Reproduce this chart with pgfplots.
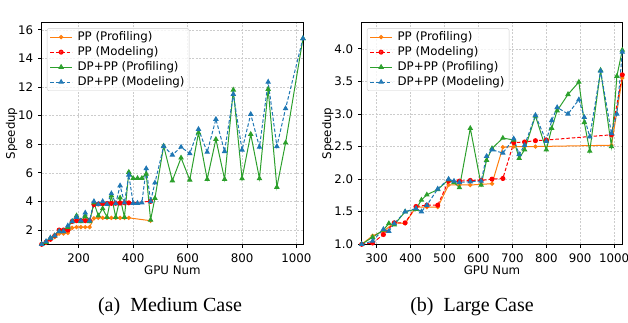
\documentclass[border=0pt]{standalone}
\usepackage{pgfplots}
\pgfplotsset{compat=1.18}
\usepackage{fontspec}
\setmainfont{DejaVu Sans}
\newfontfamily\capfont{Liberation Serif}
\definecolor{mplorange}{HTML}{FF7F0E}
\definecolor{mplred}{HTML}{FF0000}
\definecolor{mplgreen}{HTML}{2CA02C}
\definecolor{mplblue}{HTML}{1F77B4}

\pgfplotsset{
  myaxis/.style={
    scale only axis,
    /pgf/number format/assume math mode=true,
    /pgf/number format/1000 sep={},
    font=\fontsize{11.8}{14}\selectfont,
    axis line style={line width=0.8pt, black},
    tick align=outside, tick pos=left,
    major tick length=3.5pt,
    tick style={line width=0.7pt, black},
    xticklabel style={yshift=-2pt},
    yticklabel style={xshift=-1.5pt},
    grid=major,
    grid style={line width=0.5pt, gray!40, dash pattern=on 2pt off 1.5pt},
    xlabel={GPU Num}, ylabel={Speedup},
    xlabel style={yshift=3pt},
    ylabel style={yshift=-6pt},
    legend cell align=left,
    legend style={at={(0.02,0.975)}, anchor=north west, draw=black!20,
      rounded corners=2pt, fill=white, fill opacity=0.8, text opacity=1,
      font=\fontsize{11.8}{14}\selectfont, inner xsep=2.5pt, inner ysep=1.5pt,
      row sep=0.5pt, /tikz/every odd column/.append style={column sep=3pt}},
    legend image code/.code={\draw[mark repeat=2,mark phase=2,##1] plot coordinates {(0pt,0pt) (11pt,0pt) (22pt,0pt)};},
  },
  ppprof/.style={color=mplorange, line width=1pt, solid, mark=*, mark size=1.6pt, mark options={solid}},
  ppmod/.style={color=mplred, line width=1pt, dash pattern=on 3.5pt off 2pt, mark=*, mark size=2pt, mark options={solid}},
  dpprof/.style={color=mplgreen, line width=1pt, solid, mark=triangle*, mark size=2.3pt, mark options={solid}},
  dpmod/.style={color=mplblue, line width=1pt, dash pattern=on 3.5pt off 2pt, mark=triangle*, mark size=2.3pt, mark options={solid}},
}

\begin{document}
\begin{tikzpicture}
\useasboundingbox (0pt,0pt) rectangle (628pt,-323pt);

\begin{axis}[myaxis,
  at={(41.7pt,-244.3pt)}, anchor=south west,
  width=261.3pt, height=221.6pt,
  xmin=64, xmax=1024, ymin=1, ymax=16.5,
  xtick={200,400,600,800,1000},
  ytick={2,4,6,8,10,12,14,16},
]
\addplot[ppprof] coordinates {
(64,1.0) (80,1.1) (96,1.35) (112,1.5) (128,1.75) (144,1.75) (160,1.8) (176,2.15) (192,2.2) (208,2.2) (224,2.2) (240,2.2)
(256,2.82) (272,2.85) (288,2.85) (304,2.85) (320,2.85) (336,2.85) (352,2.85) (368,2.85) (384,2.85) (464,2.65)};
\addlegendentry{PP (Profiling)}
\addplot[ppmod] coordinates {
(64,1.0) (80,1.15) (96,1.35) (112,1.6) (128,2.0) (144,2.0) (160,2.0) (176,2.6) (192,2.65) (208,2.65) (224,2.65) (240,2.65)
(256,3.78) (272,3.82) (288,3.84) (304,3.85) (320,3.86) (336,3.87) (352,3.88) (368,3.9) (384,3.9) (464,4.0)};
\addlegendentry{PP (Modeling)}
\addplot[dpprof] coordinates {
(64,1.0) (80,1.15) (96,1.45) (112,1.6) (128,1.9) (144,1.9) (160,2.2) (176,2.6) (192,3.0) (208,2.6) (224,2.95) (240,2.6)
(256,3.9) (272,3.0) (288,3.5) (304,2.9) (320,4.4) (336,2.9) (352,4.25) (368,2.9) (384,6.05) (400,5.62) (416,5.62) (432,5.62)
(448,5.92) (464,2.7) (480,4.22) (512,7.88) (544,5.45) (576,7.05) (608,5.5) (640,8.8) (672,5.55) (704,8.35) (736,5.55)
(768,11.8) (800,5.6) (832,8.7) (864,5.6) (896,11.85) (928,5.0) (960,8.1) (1024,15.4)};
\addlegendentry{DP+PP (Profiling)}
\addplot[dpmod] coordinates {
(64,1.0) (80,1.2) (96,1.45) (112,1.6) (128,1.9) (144,1.9) (160,2.3) (176,2.6) (192,2.9) (208,2.65) (224,3.2) (240,2.65)
(256,4.0) (272,3.8) (288,4.0) (304,3.8) (320,4.55) (336,3.85) (352,5.1) (368,3.9) (384,5.85) (400,3.88) (416,3.88) (432,3.9)
(448,6.3) (464,4.0) (480,5.3) (512,7.85) (544,7.25) (576,7.8) (608,7.35) (640,9.05) (672,7.45) (704,9.75) (736,7.5)
(768,11.5) (800,7.6) (832,10.1) (864,7.8) (896,12.35) (928,7.85) (960,10.5) (1024,15.4)};
\addlegendentry{DP+PP (Modeling)}
\end{axis}

\begin{axis}[myaxis,
  at={(361.7pt,-244.3pt)}, anchor=south west,
  width=260.6pt, height=221.6pt,
  xmin=256, xmax=1024, ymin=1, ymax=4.4,
  xtick={300,400,500,600,700,800,900,1000},
  ytick={1.0,1.5,2.0,2.5,3.0,3.5,4.0},
  yticklabel style={/pgf/number format/.cd, fixed, fixed zerofill, precision=1},
]
\addplot[ppprof] coordinates {
(256,1.0) (288,1.13) (320,1.2) (352,1.33) (384,1.32) (416,1.57) (448,1.57) (480,1.57) (512,1.91) (544,1.91) (576,1.91)
(608,1.92) (640,1.93) (672,2.49) (704,2.5) (736,2.5) (768,2.5) (992,2.52) (1024,3.55)};
\addlegendentry{PP (Profiling)}
\addplot[ppmod] coordinates {
(256,1.0) (288,1.02) (320,1.15) (352,1.33) (384,1.33) (416,1.58) (448,1.6) (480,1.6) (512,1.97) (544,1.97) (576,1.98)
(608,1.98) (640,2.0) (672,2.01) (704,2.56) (736,2.57) (768,2.59) (800,2.6) (992,2.68) (1024,3.6)};
\addlegendentry{PP (Modeling)}
\addplot[dpprof] coordinates {
(256,1.0) (288,1.11) (320,1.22) (336,1.32) (352,1.30) (384,1.50) (416,1.54) (432,1.68) (448,1.76) (480,1.84) (512,1.99)
(528,1.95) (544,1.87) (576,2.78) (608,1.91) (624,2.29) (640,2.47) (672,2.63) (704,2.60) (720,2.32) (736,2.45) (768,2.97)
(800,2.45) (816,2.78) (832,3.05) (864,3.30) (896,3.49) (912,2.87) (928,2.43) (960,3.67) (992,2.50) (1008,3.58) (1024,3.98)};
\addlegendentry{DP+PP (Profiling)}
\addplot[dpmod] coordinates {
(256,1.0) (288,1.05) (320,1.23) (336,1.2) (352,1.32) (384,1.5) (416,1.55) (432,1.5) (448,1.6) (480,1.85) (512,2.0)
(528,1.97) (544,1.95) (576,1.96) (608,1.97) (624,2.35) (640,2.45) (672,2.4) (704,2.62) (720,2.38) (736,2.52) (768,2.98)
(800,2.58) (816,2.9) (832,3.1) (864,3.0) (896,3.22) (912,2.95) (928,2.65) (960,3.66) (992,2.7) (1008,3.0) (1024,3.95)};
\addlegendentry{DP+PP (Modeling)}
\end{axis}

\node[font=\capfont\fontsize{20}{24}\selectfont, anchor=base] at (170pt,-311pt) {(a)\ \ Medium Case};
\node[font=\capfont\fontsize{20}{24}\selectfont, anchor=base] at (472pt,-311pt) {(b)\ \ Large Case};
\end{tikzpicture}
\end{document}
